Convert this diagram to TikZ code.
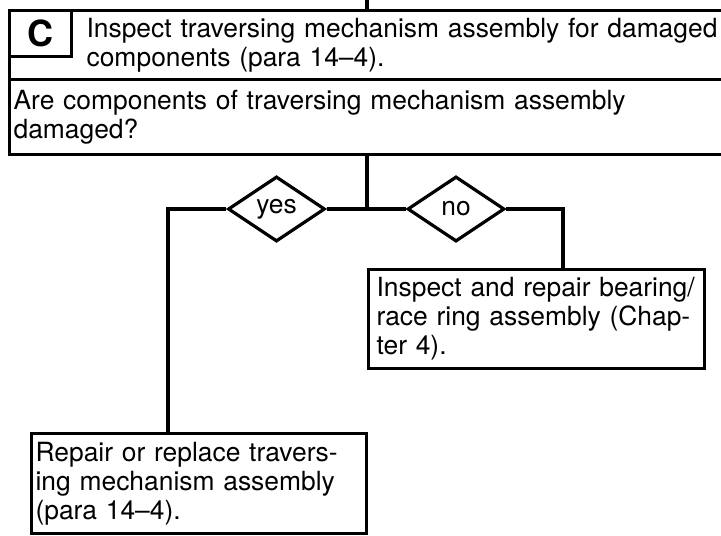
\documentclass[tikz,border=0pt]{standalone}
\usepackage{fontspec}
\setmainfont{TeX Gyre Heros}
\usepackage{tikz}
\usetikzlibrary{shapes.geometric, positioning}

\begin{document}
\begin{tikzpicture}[
    x=0.5pt, y=-0.5pt,
    line width=1.6pt,
    txt/.style={font=\fontsize{13.2}{14.5}\selectfont},
    box/.style={rectangle, draw, txt, align=left, anchor=north west, inner ysep=0pt},
    tag/.style={rectangle, draw, fill=white, anchor=north west, inner sep=0pt, minimum width=31pt, minimum height=23pt, font=\fontsize{18}{20}\selectfont\bfseries},
    choice/.style={diamond, draw, txt, aspect=1.5, inner sep=0pt, minimum width=48.5pt, minimum height=32.5pt},
]
    \useasboundingbox (0,0) rectangle (721,535);
    \clip (0,0) rectangle (721,535);

    % Nodes
    \node[box, inner xsep=38.5pt, text width=330pt, minimum height=34.5pt] (inspect) at (8,9)
        {Inspect traversing mechanism assembly for damaged\\components (para 14--4).};
    \node[tag] (step) at (8,9) {C};
    \node[box, inner xsep=2pt, text width=360pt, minimum height=37.5pt] (question) at (8,78)
        {Are components of traversing mechanism assembly\\damaged?};
    \coordinate (entry) at (367,0);
    \coordinate (split) at (367,209);
    \node[choice] (yes) at (276.5,209) {yes};
    \node[choice] (no) at (456,209) {no};
    \node[box, inner xsep=4pt, text width=160pt, minimum height=49.5pt] (bearing) at (367,268)
        {Inspect and repair bearing/\\race ring assembly (Chap-\\ter 4).};
    \node[box, inner xsep=2pt, text width=163.5pt, minimum height=50pt] (repair) at (30,432)
        {Repair or replace travers-\\ing mechanism assembly\\(para 14--4).};

    % Lines
    \draw (entry) -- (entry |- inspect.north);
    \draw (entry |- question.south) -- (split);
    \draw (yes.east) -- (no.west);
    \draw (yes.west) -| ([xshift=69pt]repair.north west);
    \draw (no.east) -| ([xshift=98pt]bearing.north west);
\end{tikzpicture}
\end{document}
